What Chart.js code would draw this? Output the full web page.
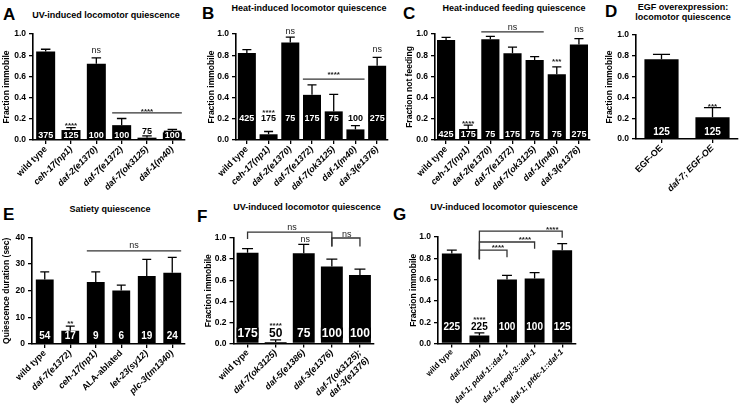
<!DOCTYPE html>
<html>
<head>
<meta charset="utf-8">
<script src="https://cdn.jsdelivr.net/npm/chart.js@4.4.1/dist/chart.umd.min.js"></script>
<style>
  body { margin: 0; width: 744px; height: 406px; position: relative; overflow: hidden; background: #fff;
         font-family: "Liberation Sans", Arial, sans-serif; color: #000; }
  canvas { position: absolute; }
  .letter { position: absolute; font-weight: bold; font-size: 17px; line-height: 1; }
  .ttl { position: absolute; font-weight: bold; font-size: 9px; line-height: 10px; text-align: center;
         white-space: nowrap; transform: translateX(-50%); }
</style>
</head>
<body>
<div class="letter" style="left:3px;top:6px">A</div>
<div class="ttl" style="left:106px;top:10px">UV-induced locomotor quiescence</div>
<div class="letter" style="left:202px;top:5px">B</div>
<div class="ttl" style="left:309px;top:3px">Heat-induced locomotor quiescence</div>
<div class="letter" style="left:403px;top:5px">C</div>
<div class="ttl" style="left:514px;top:3px">Heat-induced feeding quiescence</div>
<div class="letter" style="left:605px;top:3px">D</div>
<div class="ttl" style="left:683px;top:2px">EGF overexpression:<br>locomotor quiescence</div>
<div class="letter" style="left:3px;top:206px">E</div>
<div class="ttl" style="left:110px;top:204px">Satiety quiescence</div>
<div class="letter" style="left:197px;top:208px">F</div>
<div class="ttl" style="left:307px;top:202px">UV-induced locomotor quiescence</div>
<div class="letter" style="left:393px;top:206px">G</div>
<div class="ttl" style="left:504px;top:202px">UV-induced locomotor quiescence</div>

<script>
// ---- data ----
// A
const catsA = ['wild type', 'ceh-17(np1)', 'daf-2(e1370)', 'daf-7(e1372)', 'daf-7(ok3125)', 'daf-1(m40)'];
const meanA = [0.834, 0.094, 0.72, 0.14, 0.022, 0.072];
const semA  = [0.022, 0.022, 0.055, 0.063, 0.016, 0.028];
const nA    = [375, 125, 100, 100, 75, 100];
const sigA  = [[1, 0.15, '****'], [2, 0.84, 'ns'], [4, 0.285, '****']];
const spanA = [[2.625, 5.375, 0.255]];

// B
const catsB = ['wild type', 'ceh-17(np1)', 'daf-2(e1370)', 'daf-7(e1372)', 'daf-7(ok3125)', 'daf-1(m40)', 'daf-3(e1376)'];
const meanB = [0.82, 0.054, 0.92, 0.426, 0.27, 0.10, 0.70];
const semB  = [0.032, 0.026, 0.05, 0.094, 0.16, 0.035, 0.08];
const nB    = [425, 175, 75, 175, 75, 100, 275];
const sigB  = [[1, 0.275, '****'], [2, 1.02, 'ns'], [4, 0.637, '****'], [6, 0.85, 'ns']];
const spanB = [[2.58, 5.42, 0.574]];

// C
const catsC = ['wild type', 'ceh-17(np1)', 'daf-2(e1370)', 'daf-7(e1372)', 'daf-7(ok3125)', 'daf-1(m40)', 'daf-3(e1376)'];
const meanC = [0.943, 0.104, 0.95, 0.818, 0.755, 0.62, 0.90];
const semC  = [0.025, 0.036, 0.028, 0.059, 0.031, 0.07, 0.056];
const nC    = [425, 175, 75, 175, 75, 75, 275];
const sigC  = [[1, 0.175, '****'], [3, 1.063, 'ns'], [5, 0.755, '***'], [6, 1.038, 'ns']];
const spanC = [[1.59, 4.41, 1.02]];

// D
const catsD = ['EGF-OE', 'daf-7; EGF-OE'];
const meanD = [0.766, 0.208];
const semD  = [0.048, 0.093];
const nD    = [125, 125];
const sigD  = [[1, 0.327, '***']];

// E
const catsE = ['wild type', 'daf-7(e1372)', 'ceh-17(np1)', 'ALA-ablated', 'let-23(sy12)', 'plc-3(tm1340)'];
const meanE = [24.25, 5, 23.25, 20.1, 25.5, 26.75];
const semE  = [2.85, 1.75, 3.85, 2.0, 6.25, 5.75];
const nE    = [54, 17, 9, 6, 19, 24];
const sigE  = [[1, 8.2, '**'], [3.5, 36.9, 'ns']];
const spanE = [[1.65, 5.35, 35]];

// F
const catsF = ['wild type', 'daf-7(ok3125)', 'daf-5(e1386)', 'daf-3(e1376)', ['daf-7(ok3125);', 'daf-3(e1376)']];
const meanF = [0.86, 0.015, 0.855, 0.73, 0.65];
const semF  = [0.04, 0.02, 0.085, 0.07, 0.055];
const nF    = [175, 50, 75, 100, 100];
const sigF  = [[1, 0.19, '****'], [2.05, 0.99, 'ns'], [1.58, 1.095, 'ns'], [3.53, 1.035, 'ns']];
const brkF  = [[0, 3, 1.055, 0.99, 0.92], [3, 4, 1.0, 0.92, 0.92]];

// G
const catsG = ['wild type', 'daf-1(m40)', 'daf-1; pdaf-1::daf-1', 'daf-1; pegl-3::daf-1', 'daf-1; pfdc-1::daf-1'];
const meanG = [0.845, 0.075, 0.60, 0.61, 0.876];
const semG  = [0.031, 0.025, 0.04, 0.055, 0.062];
const nG    = [225, 225, 100, 100, 125];
const sigG  = [[1, 0.24, '****'], [1.67, 0.92, '****'], [2.65, 0.99, '****'], [3.64, 1.087, '****']];
const brkG  = [[1, 2, 0.876, 0.79, 0.81], [1, 3, 0.953, 0.79, 0.89], [1, 4, 1.056, 0.79, 0.994]];

const FONT = '"Liberation Sans", Arial, sans-serif';

function isItalic(label) {
  const s = Array.isArray(label) ? label[0] : label;
  return !(s === 'wild type' || s.startsWith('ALA') || s.startsWith('EGF'));
}

// error bars, n labels, significance marks
function makeMarks(o) {
  return {
    id: 'marks',
    afterDatasetsDraw(chart) {
      const ctx = chart.ctx, xs = chart.scales.x, ys = chart.scales.y;
      const bars = chart.getDatasetMeta(0).data;
      const range = ys.max - ys.min;
      ctx.save();

      ctx.strokeStyle = '#000';
      ctx.lineWidth = 1.3;
      bars.forEach((bar, i) => {
        const top = ys.getPixelForValue(o.mean[i] + o.sem[i]);
        const half = bar.width / 4;
        ctx.beginPath();
        ctx.moveTo(bar.x, bar.y);
        ctx.lineTo(bar.x, top);
        ctx.moveTo(bar.x - half, top);
        ctx.lineTo(bar.x + half, top);
        ctx.stroke();
      });

      ctx.font = 'bold ' + o.nSize + 'px ' + FONT;
      ctx.textAlign = 'center';
      ctx.textBaseline = 'middle';
      bars.forEach((bar, i) => {
        const txt = String(o.n[i]);
        const inside = o.mean[i] > o.nY;
        const v = inside ? o.nY : Math.max(o.nY, o.mean[i] + o.sem[i] + 0.045 * range);
        const y = ys.getPixelForValue(v);
        if (inside) {
          const w = ctx.measureText(txt).width + 2;
          ctx.fillStyle = '#000';
          ctx.fillRect(bar.x - w / 2, y - o.nSize * 0.45, w, o.nSize * 0.9);
          ctx.fillStyle = '#fff';
        } else {
          ctx.fillStyle = '#000';
        }
        ctx.fillText(txt, bar.x, y + 0.5);
      });

      ctx.strokeStyle = '#333';
      ctx.lineWidth = 1.3;
      (o.spans || []).forEach(s => {
        const y = ys.getPixelForValue(s[2]);
        ctx.beginPath();
        ctx.moveTo(xs.getPixelForValue(s[0]), y);
        ctx.lineTo(xs.getPixelForValue(s[1]), y);
        ctx.stroke();
      });
      (o.brackets || []).forEach(b => {
        const x0 = xs.getPixelForValue(b[0]), x1 = xs.getPixelForValue(b[1]);
        const y = ys.getPixelForValue(b[2]);
        ctx.beginPath();
        ctx.moveTo(x0, ys.getPixelForValue(b[3]));
        ctx.lineTo(x0, y);
        ctx.lineTo(x1, y);
        ctx.lineTo(x1, ys.getPixelForValue(b[4]));
        ctx.stroke();
      });

      ctx.fillStyle = '#222';
      (o.sig || []).forEach(s => {
        const star = s[2].startsWith('*');
        ctx.font = (star ? 'bold 8px ' : '9px ') + FONT;
        const y = ys.getPixelForValue(s[1]) + (star ? 2 : 0);
        ctx.fillText(s[2], xs.getPixelForValue(s[0]), y);
      });
      ctx.restore();
    }
  };
}

function panel(o) {
  const c = document.createElement('canvas');
  c.width = o.w; c.height = o.h;
  c.style.left = o.left + 'px'; c.style.top = o.top + 'px';
  c.style.width = o.w + 'px'; c.style.height = o.h + 'px';
  document.body.appendChild(c);
  const yW = o.plotL - o.left;
  const xH = o.top + o.h - o.plotB;
  const tickFont = { family: FONT, size: 8.5, weight: 'bold' };
  const labelSize = o.labelSize || 9;

  new Chart(c, {
    type: 'bar',
    data: {
      labels: o.cats,
      datasets: [{ data: o.mean, backgroundColor: '#000', borderWidth: 0,
                   barPercentage: o.barPct, categoryPercentage: 1 }]
    },
    options: {
      responsive: false,
      animation: false,
      layout: { padding: { top: o.plotT - o.top, right: o.left + o.w - o.plotR, left: 0, bottom: 0 } },
      plugins: { legend: { display: false }, tooltip: { enabled: false } },
      scales: {
        x: {
          grid: { offset: false, drawOnChartArea: false, tickLength: 4, color: '#000', lineWidth: 1.3 },
          border: { color: '#000', width: 1.6 },
          ticks: {
            autoSkip: false, minRotation: 45, maxRotation: 45, padding: 0, color: '#000',
            font: ctx => ({ family: FONT, size: labelSize, weight: 'bold',
                            style: isItalic(o.cats[ctx.index]) ? 'italic' : 'normal' })
          },
          afterFit: s => { s.height = xH; s.paddingLeft = 0; s.paddingRight = 0; }
        },
        y: {
          min: 0, max: o.max,
          ticks: { stepSize: o.step, padding: 3, color: '#000', font: tickFont,
                   callback: v => o.step < 1 ? v.toFixed(1) : v },
          grid: { drawOnChartArea: false, tickLength: 4, color: '#000', lineWidth: 1.3 },
          border: { color: '#000', width: 1.6 },
          title: { display: true, text: o.ytitle, color: '#000', padding: 0, font: tickFont },
          afterFit: s => { s.width = yW; s.paddingTop = 0; s.paddingBottom = 0; }
        }
      }
    },
    plugins: [makeMarks(o)]
  });
}

panel({ cats: catsA, mean: meanA, sem: semA, n: nA, sig: sigA, spans: spanA,
        left: 2, top: 18, w: 190, h: 184, plotL: 33, plotT: 34, plotR: 185, plotB: 140,
        max: 1, step: 0.2, barPct: 0.75, nY: 0.05, nSize: 9, ytitle: 'Fraction immobile' });
panel({ cats: catsB, mean: meanB, sem: semB, n: nB, sig: sigB, spans: spanB,
        left: 207, top: 18, w: 186, h: 184, plotL: 236, plotT: 34, plotR: 388, plotB: 140,
        max: 1, step: 0.2, barPct: 0.83, nY: 0.21, nSize: 9, ytitle: 'Fraction immobile' });
panel({ cats: catsC, mean: meanC, sem: semC, n: nC, sig: sigC, spans: spanC,
        left: 405, top: 18, w: 194, h: 184, plotL: 435, plotT: 34, plotR: 590, plotB: 140,
        max: 1, step: 0.2, barPct: 0.82, nY: 0.057, nSize: 9, ytitle: 'Fraction not feeding' });
panel({ cats: catsD, mean: meanD, sem: semD, n: nD, sig: sigD,
        left: 605, top: 22, w: 139, h: 180, plotL: 636, plotT: 35, plotR: 738, plotB: 139,
        max: 1, step: 0.2, barPct: 0.67, nY: 0.07, nSize: 10, ytitle: 'Fraction immobile' });
panel({ cats: catsE, mean: meanE, sem: semE, n: nE, sig: sigE, spans: spanE,
        left: 2, top: 222, w: 192, h: 184, plotL: 32, plotT: 237.5, plotR: 185, plotB: 344,
        max: 40, step: 10, barPct: 0.7, nY: 3.0, nSize: 10, ytitle: 'Quiescence duration (sec)' });
panel({ cats: catsF, mean: meanF, sem: semF, n: nF, sig: sigF, brackets: brkF,
        left: 204, top: 218, w: 180, h: 188, plotL: 233.5, plotT: 238, plotR: 374, plotB: 343.5,
        max: 1, step: 0.2, barPct: 0.78, nY: 0.10, nSize: 12, ytitle: 'Fraction immobile' });
panel({ cats: catsG, mean: meanG, sem: semG, n: nG, sig: sigG, brackets: brkG,
        left: 409, top: 218, w: 180, h: 188, plotL: 438, plotT: 237, plotR: 576, plotB: 343.5,
        max: 1, step: 0.2, barPct: 0.72, nY: 0.16, nSize: 10, labelSize: 8, ytitle: 'Fraction immobile' });
</script>
</body>
</html>
